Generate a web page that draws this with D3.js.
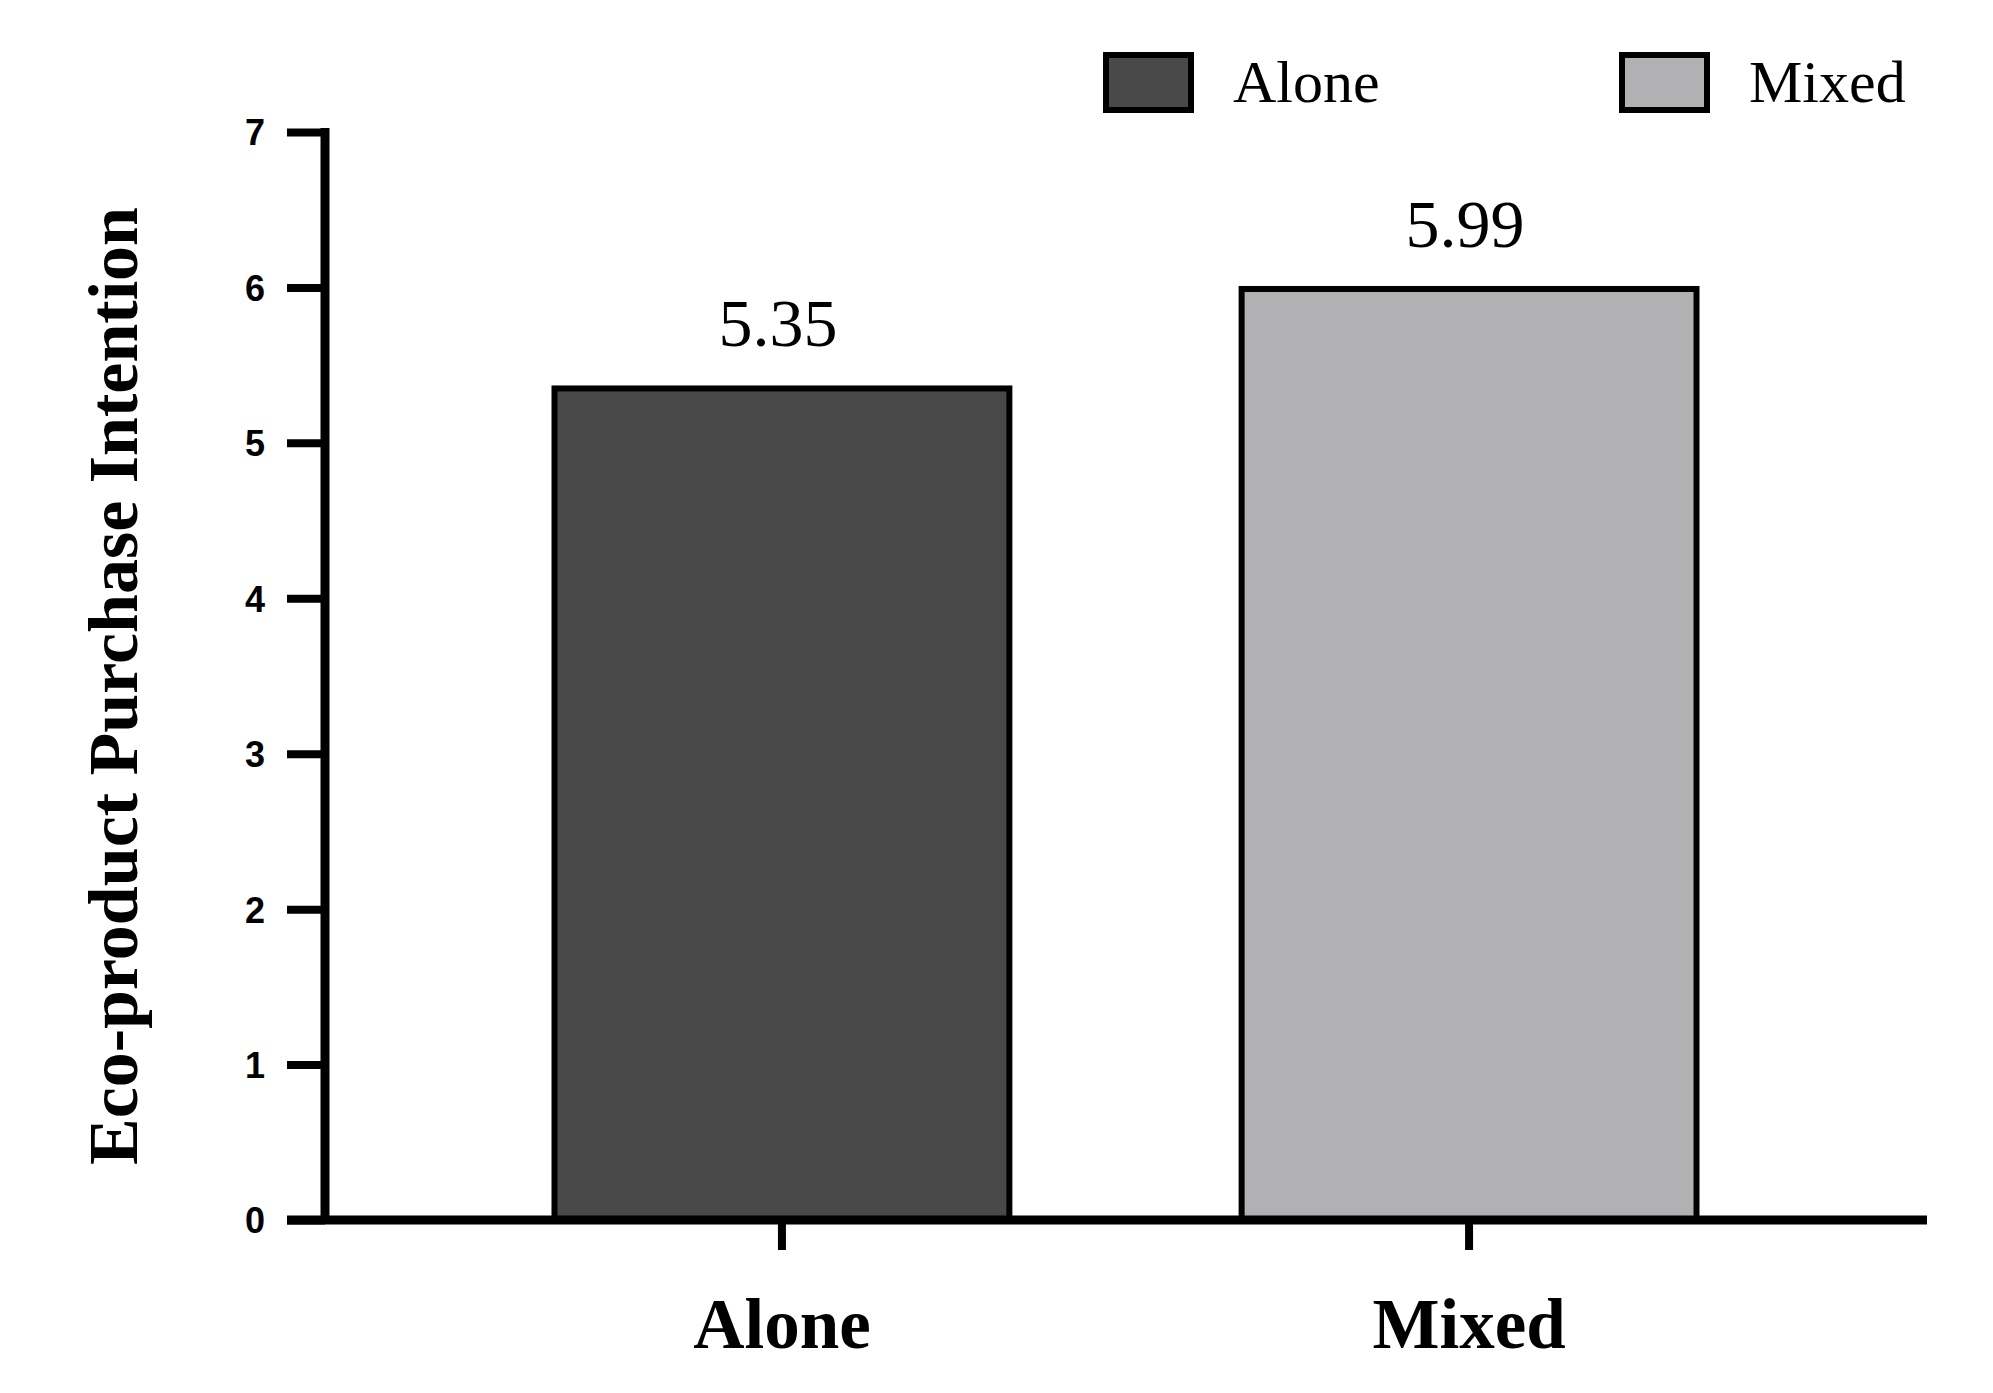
<!DOCTYPE html>
<html>
<head>
<meta charset="utf-8">
<script src="https://cdn.jsdelivr.net/npm/d3@7"></script>
<style>
  html, body { margin: 0; padding: 0; background: #ffffff; }
  svg { display: block; }
</style>
</head>
<body>
<svg id="chart" width="1993" height="1393"></svg>
<script>
const categories = ["Alone", "Mixed"];
const values = [5.35, 5.99];
const valueLabels = ["5.35", "5.99"];
const yTicks = [0, 1, 2, 3, 4, 5, 6, 7];
const colors = ["#494949", "#b1b1b3"];
const yTitle = "Eco-product Purchase Intention";

const svg = d3.select("#chart");
const serif = "'Liberation Serif', 'Times New Roman', serif";
const sans = "'Liberation Sans', Arial, sans-serif";

const x = d3.scaleBand().domain(categories).range([325, 1926]).paddingInner(0.338).paddingOuter(0.334);
const y = d3.scaleLinear().domain([0, 7]).range([1220, 132]);

// bars
svg.selectAll("rect.bar").data(categories).join("rect")
  .attr("class", "bar")
  .attr("x", d => x(d))
  .attr("y", (d, i) => y(values[i]))
  .attr("width", x.bandwidth())
  .attr("height", (d, i) => y(0) - y(values[i]))
  .attr("fill", (d, i) => colors[i])
  .attr("stroke", "#000")
  .attr("stroke-width", 6);

// value labels
svg.selectAll("text.val").data(categories).join("text")
  .attr("class", "val")
  .attr("x", d => x(d) + x.bandwidth() / 2 - 4)
  .attr("y", (d, i) => y(values[i]) - 42)
  .attr("text-anchor", "middle")
  .attr("font-family", serif)
  .attr("font-size", 68)
  .attr("fill", "#000")
  .text((d, i) => valueLabels[i]);

// y axis
const yAxis = d3.axisLeft(y).tickValues(yTicks).tickFormat(d3.format("d")).tickSize(38).tickSizeOuter(0);
const gy = svg.append("g").attr("transform", "translate(325,0)").call(yAxis);
gy.select(".domain").attr("stroke", "#000").attr("stroke-width", 9)
  .attr("d", `M0,${y(7) - 4}V${y(0)}`);
gy.selectAll(".tick line").attr("stroke", "#000").attr("stroke-width", 8);
gy.selectAll(".tick text")
  .attr("font-family", sans).attr("font-weight", "bold").attr("font-size", 36)
  .attr("fill", "#000").attr("x", -60).attr("dy", "0.36em");

// x axis
const xAxis = d3.axisBottom(x).tickSize(30).tickSizeOuter(0).tickPadding(48);
const gx = svg.append("g").attr("transform", `translate(0,${y(0)})`).call(xAxis);
gx.select(".domain").attr("stroke", "#000").attr("stroke-width", 9)
  .attr("d", "M287,0H1927");
gx.selectAll(".tick line").attr("stroke", "#000").attr("stroke-width", 8);
gx.selectAll(".tick text")
  .attr("font-family", serif).attr("font-weight", "bold").attr("font-size", 71)
  .attr("fill", "#000").attr("dy", "0.71em");

// y title
svg.append("text")
  .attr("transform", "translate(137,686) rotate(-90)")
  .attr("text-anchor", "middle")
  .attr("font-family", serif).attr("font-weight", "bold").attr("font-size", 70)
  .attr("fill", "#000")
  .text(yTitle);

// legend
const legendX = [1106, 1622];
const lg = svg.selectAll("g.leg").data(categories).join("g")
  .attr("class", "leg")
  .attr("transform", (d, i) => `translate(${legendX[i]},55)`);
lg.append("rect").attr("width", 85).attr("height", 55)
  .attr("fill", (d, i) => colors[i]).attr("stroke", "#000").attr("stroke-width", 6);
lg.append("text").attr("x", 127).attr("y", 47)
  .attr("font-family", serif).attr("font-size", 60).attr("fill", "#000")
  .text(d => d);
</script>
</body>
</html>
